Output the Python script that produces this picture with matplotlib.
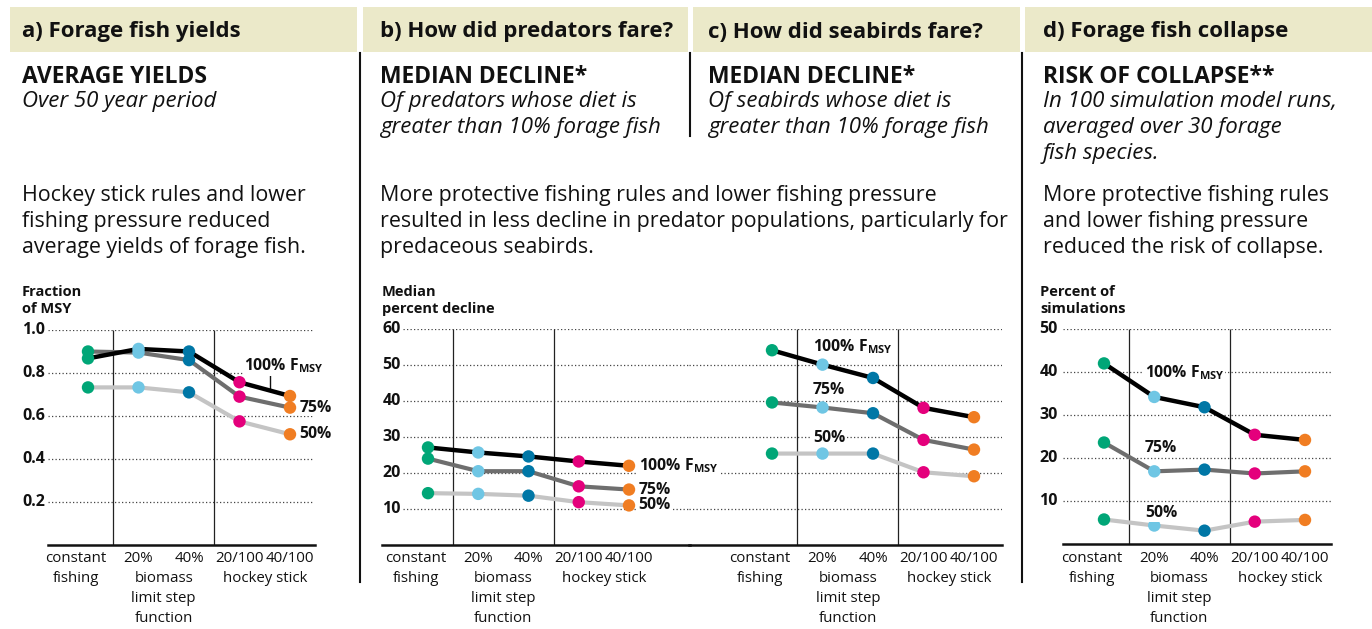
import matplotlib
matplotlib.use("Agg")
import matplotlib.pyplot as plt
from matplotlib.transforms import Affine2D
from matplotlib.patches import Rectangle
from matplotlib.lines import Line2D

W, H = 1372, 629
FONT = "Open Sans"
plt.rcParams["font.family"] = [FONT, "DejaVu Sans"]
plt.rcParams["mathtext.fontset"] = "custom"
plt.rcParams["mathtext.rm"] = FONT
plt.rcParams["mathtext.bf"] = FONT + ":bold"

# ---------------- data ----------------
cat_row1 = ["constant", "20%", "40%", "20/100", "40/100"]
series_labels = ["100% F$_\\mathbf{MSY}$", "75%", "50%"]

yield_100 = [0.868, 0.912, 0.900, 0.757, 0.693]
yield_75 = [0.900, 0.895, 0.860, 0.690, 0.639]
yield_50 = [0.733, 0.733, 0.710, 0.575, 0.515]

pred_100 = [27.1, 25.7, 24.6, 23.2, 22.0]
pred_75 = [24.0, 20.5, 20.5, 16.3, 15.4]
pred_50 = [14.4, 14.2, 13.7, 11.9, 11.0]

bird_100 = [54.1, 50.1, 46.4, 38.1, 35.5]
bird_75 = [39.6, 38.2, 36.6, 29.2, 26.5]
bird_50 = [25.4, 25.4, 25.4, 20.2, 19.1]

coll_100 = [42.0, 34.2, 31.8, 25.4, 24.2]
coll_75 = [23.6, 16.9, 17.3, 16.4, 16.9]
coll_50 = [5.7, 4.3, 3.1, 5.2, 5.6]

yield_ticks = [0.2, 0.4, 0.6, 0.8, 1.0]
yield_ticklabels = ["0.2", "0.4", "0.6", "0.8", "1.0"]
decline_ticks = [10, 20, 30, 40, 50, 60]
collapse_ticks = [10, 20, 30, 40, 50]

# ---------------- styles ----------------
MARKER_COLORS = ["#00a677", "#6fc6e4", "#0077a6", "#e4007c", "#f07d22"]
LINE_COLORS = ["#000000", "#6e6e6e", "#c4c4c4"]
LINE_W = [3.2, 3.0, 3.0]
HEADER_BG = "#ebe9c9"

HEAD = 16
CAPS = 16.5
ITAL = 16
BODY = 15.4
AXT = 10.5
TICK = 11.5
CAT = 10.8
SER = 11.3

fig = plt.figure(figsize=(W / 100, H / 100), dpi=100)
fig.patch.set_facecolor("white")
pix = Affine2D().scale(1 / W, -1 / H).translate(0, 1) + fig.transFigure


def ftext(x, y, s, **kw):
    kw.setdefault("va", "center")
    kw.setdefault("ha", "left")
    kw.setdefault("color", "#111111")
    fig.text(x, y + 2, s, transform=pix, **kw)


def fline(x0, y0, x1, y1, lw=1.5, color="#111111"):
    fig.add_artist(Line2D([x0, x1], [y0, y1], transform=pix, lw=lw, color=color))


# headers
for (x0, x1), tx, title in zip([(10, 357), (363, 688), (693, 1020), (1025, 1372)],
                               [22, 380, 708, 1043],
                               ["a) Forage fish yields", "b) How did predators fare?",
                                "c) How did seabirds fare?", "d) Forage fish collapse"]):
    fig.add_artist(Rectangle((x0, 7), x1 - x0, 45, transform=pix, facecolor=HEADER_BG,
                             edgecolor="none"))
    ftext(tx, 30, title, fontsize=HEAD, fontweight="bold")

# panel separators
fline(360, 53, 360, 582)
fline(690, 53, 690, 136)
fline(1022, 53, 1022, 582)

ftext(22, 75, "AVERAGE YIELDS", fontsize=CAPS, fontweight="bold")
ftext(22, 100, "Over 50 year period", fontsize=ITAL, style="italic")
ftext(380, 75, "MEDIAN DECLINE*", fontsize=CAPS, fontweight="bold")
ftext(380, 100, "Of predators whose diet is", fontsize=ITAL, style="italic")
ftext(380, 126, "greater than 10% forage fish", fontsize=ITAL, style="italic")
ftext(708, 75, "MEDIAN DECLINE*", fontsize=CAPS, fontweight="bold")
ftext(708, 100, "Of seabirds whose diet is", fontsize=ITAL, style="italic")
ftext(708, 126, "greater than 10% forage fish", fontsize=ITAL, style="italic")
ftext(1043, 75, "RISK OF COLLAPSE**", fontsize=CAPS, fontweight="bold")
ftext(1043, 100, "In 100 simulation model runs,", fontsize=ITAL, style="italic")
ftext(1043, 126, "averaged over 30 forage", fontsize=ITAL, style="italic")
ftext(1043, 152, "fish species.", fontsize=ITAL, style="italic")

for i, s in enumerate(["Hockey stick rules and lower", "fishing pressure reduced",
                       "average yields of forage fish."]):
    ftext(22, 194 + 25.5 * i, s, fontsize=BODY)
for i, s in enumerate(["More protective fishing rules and lower fishing pressure",
                       "resulted in less decline in predator populations, particularly for",
                       "predaceous seabirds."]):
    ftext(380, 194 + 25.5 * i, s, fontsize=BODY)
for i, s in enumerate(["More protective fishing rules", "and lower fishing pressure",
                       "reduced the risk of collapse."]):
    ftext(1043, 194 + 25.5 * i, s, fontsize=BODY)

ftext(22, 290, "Fraction", fontsize=AXT, fontweight="bold")
ftext(22, 307, "of MSY", fontsize=AXT, fontweight="bold")
ftext(382, 290, "Median", fontsize=AXT, fontweight="bold")
ftext(382, 307, "percent decline", fontsize=AXT, fontweight="bold")
ftext(1040, 290, "Percent of", fontsize=AXT, fontweight="bold")
ftext(1040, 307, "simulations", fontsize=AXT, fontweight="bold")


def panel(x0, x1, ytop, ybot, ymax, xfirst, sp, z=1):
    ax = fig.add_axes([x0 / W, 1 - ybot / H, (x1 - x0) / W, (ybot - ytop) / H], zorder=z)
    ax.set_xlim((x0 - xfirst) / sp, (x1 - xfirst) / sp)
    ax.set_ylim(0, ymax)
    ax.axis("off")
    ax.info = dict(x0=x0, x1=x1, ytop=ytop, ybot=ybot, xfirst=xfirst, sp=sp)
    return ax


def xd(ax, px):
    i = ax.info
    return (px - i["xfirst"]) / i["sp"]


def yf(ax, py):
    i = ax.info
    return (i["ybot"] - py) / (i["ybot"] - i["ytop"])


def grid(ax, ticks, gx0, gx1):
    ax.hlines(ticks, xd(ax, gx0), xd(ax, gx1), colors="#444444", lw=0.9,
              linestyles=(0, (1, 1.8)), zorder=1)


def ticklabels(ax, ticks, labels, xr):
    for t, l in zip(ticks, labels):
        ax.text(xd(ax, xr), t, l, ha="right", va="center", fontsize=TICK,
                fontweight="bold", color="#111111")


def structure(ax, base=True):
    tr = ax.get_xaxis_transform()
    bot = yf(ax, 602)
    ax.vlines([0.5, 2.5], bot, 1.0, transform=tr, colors="#222222", lw=0.9, zorder=1)
    ax.vlines([1.5, 3.5], yf(ax, 566), 0, transform=tr, colors="#222222", lw=0.9, zorder=1)
    if base:
        ax.axhline(0, color="#111111", lw=1.8, clip_on=False, zorder=2)
    rows = [(559, [(-0.24, "constant"), (1, "20%"), (2, "40%"), (3, "20/100"), (4, "40/100")]),
            (579, [(-0.24, "fishing"), (1.5, "biomass"), (3.5, "hockey stick")]),
            (599, [(1.5, "limit step")]),
            (618, [(1.5, "function")])]
    for py, items in rows:
        for x, s in items:
            ax.text(x, yf(ax, py), s, transform=tr, ha="center", va="center",
                    fontsize=CAT, color="#111111", clip_on=False)


def series(ax, data):
    x = list(range(len(cat_row1)))
    for vals, col, lw in list(zip(data, LINE_COLORS, LINE_W))[::-1]:
        ax.plot(x, vals, color=col, lw=lw, solid_capstyle="round",
                solid_joinstyle="round", zorder=3, clip_on=False)
    for vals in data:
        ax.scatter(x, vals, c=MARKER_COLORS, s=80, linewidths=0, zorder=5, clip_on=False)


LBL = dict(fontsize=SER, fontweight="bold", color="#111111", va="center", ha="left",
           bbox=dict(facecolor="white", edgecolor="none", pad=0.5), zorder=6)

# ---- panel a ----
axa = panel(48, 315, 330, 545, 1.0, 88, 50.5, z=2)
grid(axa, yield_ticks, 48, 313)
ticklabels(axa, yield_ticks, yield_ticklabels, 45)
structure(axa)
series(axa, [yield_100, yield_75, yield_50])
axa.text(xd(axa, 244), yf(axa, 366), series_labels[0], **LBL)
axa.vlines(3.6, yield_100[3] + 0.6 * (yield_100[4] - yield_100[3]), yf(axa, 373),
           colors="#111111", lw=1.0, zorder=2)
for vals, lab in zip([yield_75, yield_50], series_labels[1:]):
    axa.annotate(lab, (4, vals[-1]), xytext=(7, 0), textcoords="offset points", **LBL)

# ---- panel b ----
axb = panel(382, 690, 329, 545, 60, 428, 50.25, z=3)
grid(axb, decline_ticks, 403, 691)
ticklabels(axb, decline_ticks, [str(t) for t in decline_ticks], 401)
structure(axb)
series(axb, [pred_100, pred_75, pred_50])
for vals, lab in zip([pred_100, pred_75, pred_50], series_labels):
    axb.annotate(lab, (4, vals[-1]), xytext=(7, 0), textcoords="offset points", **LBL)

# ---- panel c ----
axc = panel(689, 1002, 329, 545, 60, 772, 50.5, z=2)
grid(axc, decline_ticks, 689, 1002)
structure(axc)
series(axc, [bird_100, bird_75, bird_50])
for yv, lab in zip([55.0, 43.1, 29.7], series_labels):
    axc.text(xd(axc, 813), yv, lab, **LBL)

# ---- panel d ----
axd = panel(1063, 1331, 329, 544, 50, 1104, 50.25, z=2)
grid(axd, collapse_ticks, 1063, 1331)
ticklabels(axd, collapse_ticks, [str(t) for t in collapse_ticks], 1058)
structure(axd)
series(axd, [coll_100, coll_75, coll_50])
for yv, lab in zip([39.8, 22.3, 7.2], series_labels):
    axd.text(xd(axd, 1145), yv, lab, **LBL)

fig.savefig("out.png", dpi=100, facecolor="white")
